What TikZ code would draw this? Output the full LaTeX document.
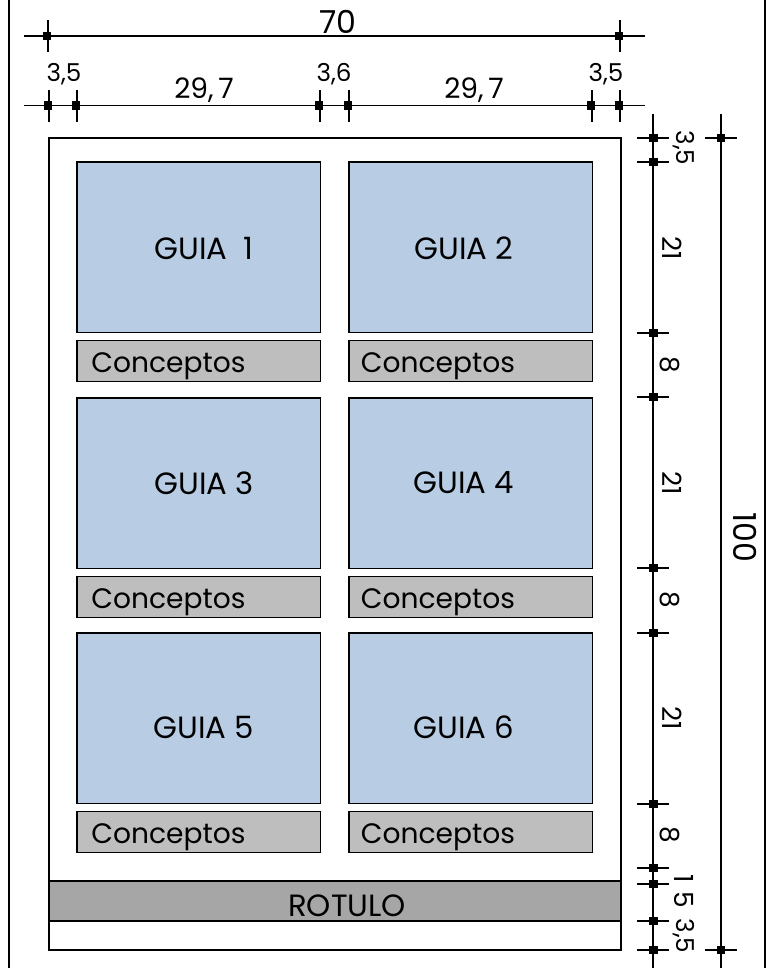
\documentclass[tikz,border=0pt]{standalone}
\usepackage{fontspec}
\setmainfont{Poppins}
\usepackage{xcolor}
\definecolor{azulguia}{HTML}{B8CCE4}
\definecolor{grisconc}{HTML}{BEBEBE}
\definecolor{grisrot}{HTML}{A6A6A6}
\tikzset{
  guia/.style={draw,line width=0.8pt,fill=azulguia},
  concepto/.style={draw,line width=0.8pt,fill=grisconc},
  cota/.style={line width=0.7pt},
  txt/.style={inner sep=0pt,font=\fontsize{#1}{#1}\selectfont},
  txt/.default=15pt,
  txtv/.style={txt=#1,rotate=-90},
  txtv/.default=15pt,
  marca/.style={fill=black,minimum size=4.6pt,inner sep=0pt,outer sep=0pt},
}
\begin{document}
\begin{tikzpicture}[x=0.02cm,y=-0.02cm]
  \useasboundingbox (0,0) rectangle (767,968);
  % marco exterior
  \draw[line width=1.2pt] (9,0)--(9,968) (765,0)--(765,968);
  % hoja
  \draw[line width=0.8pt] (49,138) rectangle (621,950);
  % guias y conceptos
  \foreach \xx/\yy/\gname/\gx/\gy/\cx in {77/162/GUIA\ \ 1/204/248/91,349/162/GUIA 2/464/248/360.5,77/398/GUIA 3/204/483/91,349/398/GUIA 4/464/483/360.5,77/633/GUIA 5/204/727/91,349/633/GUIA 6/464/727/360.5}{
    \draw[guia] (\xx,\yy) rectangle ++(243.5,170.5);
    \draw[concepto] (\xx,\yy+178.5) rectangle ++(243.5,41);
    \node[txt=17.5pt] at (\gx,\gy) {\gname};
    \node[txt=16pt,anchor=base west] at (\cx,\yy+210) {Conceptos};
  }
  % rotulo
  \draw[line width=0.8pt,fill=grisrot] (49,881) rectangle (621,921);
  \node[txt=17.5pt] (rotulo) at (347,906) {ROTULO};
  % cotas horizontales
  \coordinate (H0) at (24,36);
  \coordinate (H1) at (645,36);
  \draw[cota] (H0)--(H1);
  \foreach \xx in {48,620}{
    \draw[cota] (\xx,20)--(\xx,52);
    \node[marca] at (\xx-1,36) {};
  }
  \coordinate (H2) at (24,105.5);
  \coordinate (H3) at (645,105.5);
  \draw[cota] (H2)--(H3);
  \foreach \xx in {49,77,320,349,592,620}{
    \draw[cota] (\xx,90)--(\xx,122);
    \node[marca] at (\xx-1,105.5) {};
  }
  % cotas verticales
  \coordinate (V0) at (653,114);
  \coordinate (V1) at (653,968);
  \draw[cota] (V0)--(V1);
  \foreach \yy in {138,162,333,397,568,633,804,868,884,921,950}{
    \draw[cota] (637,\yy)--(669,\yy);
    \node[marca] at (653.5,\yy) {};
  }
  \coordinate (V2) at (721,114);
  \coordinate (V3) at (721,968);
  \draw[cota] (V2)--(V3);
  \foreach \yy in {138,950}{
    \draw[cota] (705,\yy)--(737,\yy);
    \node[marca] at (721,\yy) {};
  }
  % textos de cotas
  \node[txt=18pt] (t70) at (338,21.5) {70};
  \node[txt=14pt] (a1) at (64,74) {3,5};
  \node[txt=16pt] (b1) at (204,90) {29,\,7};
  \node[txt=14pt] (a2) at (334,74) {3,6};
  \node[txt=16pt] (b2) at (474,90) {29,\,7};
  \node[txt=14pt] (a3) at (606,74) {3,5};
  \node[txtv=14pt] (c1) at (684,148) {3,5};
  \node[txtv] (d1) at (672,248) {21};
  \node[txtv] (e1) at (670,365) {8};
  \node[txtv] (d2) at (672,483) {21};
  \node[txtv] (e2) at (670,600) {8};
  \node[txtv] (d3) at (672,718) {21};
  \node[txtv] (e3) at (670,835) {8};
  \node[txtv] (f1) at (684,891) {1\,\,5};
  \node[txtv=14pt] (c2) at (684,936) {3,5};
  \node[txtv=18pt] (t100) at (745,537) {100};
\end{tikzpicture}
\end{document}
